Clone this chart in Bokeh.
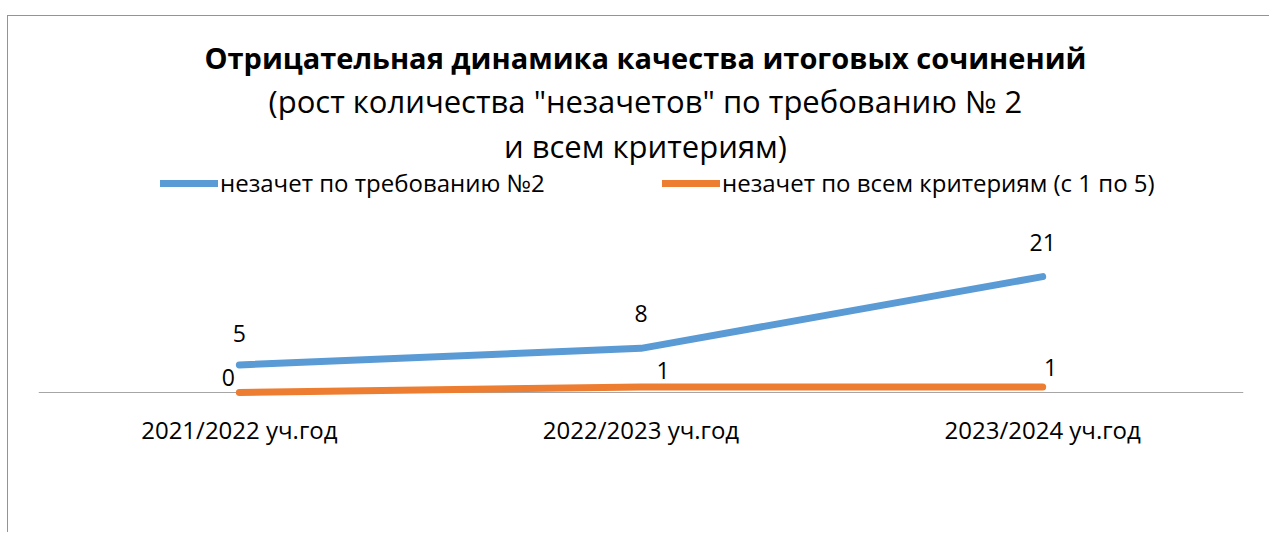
from bokeh.plotting import figure
from bokeh.models import (FactorRange, Range1d, ColumnDataSource, LabelSet, Label,
                          Legend, LegendItem, Span)
from bokeh.core.properties import value
from bokeh.embed import file_html
from bokeh.resources import INLINE

# ---- data ----
categories = ["2021/2022 уч.год", "2022/2023 уч.год", "2023/2024 уч.год"]
req2_values = [5, 8, 21]
all_values = [0, 1, 1]
series_names = ["незачет по требованию №2", "незачет по всем критериям (с 1 по 5)"]
title_text = "Отрицательная динамика качества итоговых сочинений"
subtitle_lines = ['(рост количества "незачетов" по требованию № 2', "и всем критериям)"]

# ---- styles ----
FONT = "Open Sans"
BLUE = "#5B9BD5"
ORANGE = "#ED7D31"
req2_label_dx = [0, 0, 0]
req2_label_dy = [31, 35, 34]
all_label_dx = [-11, 22, 8]
all_label_dy = [15, 16, 19]

PX = 5.52  # pixels per unit
p = figure(x_range=FactorRange(*categories, range_padding=0),
           y_range=Range1d(-6 / PX, 376 / PX),
           width=1262, height=517, output_backend="svg", toolbar_location=None,
           min_border_left=30, min_border_right=27, min_border_top=0, min_border_bottom=135)
p.styles = {"border-top": "1px solid #8497b0", "border-left": "1px solid #8497b0",
            "margin-top": "15px", "margin-left": "7px"}
p.outline_line_color = None
p.xgrid.visible = False
p.ygrid.visible = False
p.yaxis.visible = False
p.background_fill_color = "white"
p.border_fill_color = "white"

xa = p.xaxis[0]
xa.axis_line_color = None
xa.major_tick_line_color = None
xa.minor_tick_line_color = None
xa.major_label_standoff = 8
xa.major_label_text_font = FONT
xa.major_label_text_font_size = "24px"
xa.major_label_text_color = "black"

# category axis line at value 0
p.add_layout(Span(location=0, dimension="width", line_color="#a6a6a6", line_width=1, level="underlay"))

src = ColumnDataSource(dict(cat=categories, req2=req2_values, alls=all_values,
                            req2_txt=[str(v) for v in req2_values],
                            all_txt=[str(v) for v in all_values],
                            rdx=req2_label_dx, rdy=req2_label_dy,
                            adx=all_label_dx, ady=all_label_dy))

r1 = p.line("cat", "req2", source=src, line_color=BLUE, line_width=7, line_cap="round", line_join="round")
r2 = p.line("cat", "alls", source=src, line_color=ORANGE, line_width=7, line_cap="round", line_join="round")

p.add_layout(LabelSet(x="cat", y="req2", text="req2_txt", source=src, x_offset="rdx", y_offset="rdy",
                      text_align="center", text_baseline="middle", text_font=value(FONT),
                      text_font_size=value("23px"), text_color="black"))
p.add_layout(LabelSet(x="cat", y="alls", text="all_txt", source=src, x_offset="adx", y_offset="ady",
                      text_align="center", text_baseline="middle", text_font=value(FONT),
                      text_font_size=value("23px"), text_color="black"))

# titles
def ydata(page_y):
    return (392 - page_y) / PX

p.add_layout(Label(x=1.511, y=ydata(57), text=title_text, text_align="center", text_baseline="middle",
                   text_font=FONT, text_font_style="bold", text_font_size="29px", text_color="black"))
p.add_layout(Label(x=1.511, y=ydata(100), text=subtitle_lines[0], text_align="center", text_baseline="middle",
                   text_font=FONT, text_font_size="31px", text_color="black"))
p.add_layout(Label(x=1.511, y=ydata(145), text=subtitle_lines[1], text_align="center", text_baseline="middle",
                   text_font=FONT, text_font_size="31px", text_color="black"))

legend = Legend(items=[LegendItem(label=series_names[0], renderers=[r1]),
                       LegendItem(label=series_names[1], renderers=[r2])],
                orientation="horizontal", location=(122, 199), padding=0, margin=0, spacing=0,
                label_width=442, glyph_width=58, glyph_height=20, label_standoff=2,
                border_line_color=None, background_fill_alpha=0,
                label_text_font=FONT, label_text_font_size="24px", label_text_color="black")
p.add_layout(legend)

open("out.html", "w").write(file_html(p, INLINE))
